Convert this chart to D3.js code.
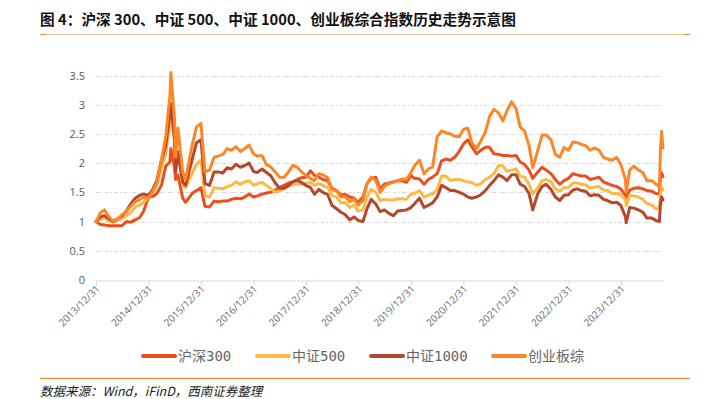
<!DOCTYPE html>
<html><head><meta charset="utf-8">
<script src="https://cdn.jsdelivr.net/npm/d3@7"></script>
<style>body{margin:0;background:#fff}svg{display:block}</style>
</head><body>
<svg id="c" width="704" height="399"></svg>
<script>
const dates=["2013-12-31",
"2014-01-30","2014-02-28","2014-03-31","2014-04-30","2014-05-30","2014-06-30","2014-07-31","2014-08-29","2014-09-30","2014-10-31","2014-11-28","2014-12-31",
"2015-01-30","2015-02-27","2015-03-31","2015-04-30","2015-05-29","2015-06-05","2015-06-30","2015-07-08","2015-07-24","2015-08-26","2015-09-15","2015-10-30","2015-11-30","2015-12-31",
"2016-01-28","2016-02-29","2016-03-31","2016-04-29","2016-05-31","2016-06-30","2016-07-29","2016-08-31","2016-09-30","2016-10-31","2016-11-30","2016-12-30",
"2017-01-26","2017-02-28","2017-03-31","2017-04-28","2017-05-31","2017-06-30","2017-07-31","2017-08-31","2017-09-29","2017-10-31","2017-11-30","2017-12-29",
"2018-01-31","2018-02-28","2018-03-30","2018-04-27","2018-05-31","2018-06-29","2018-07-31","2018-08-31","2018-09-28","2018-10-31","2018-11-30","2018-12-28",
"2019-01-31","2019-02-28","2019-03-29","2019-04-30","2019-05-31","2019-06-28","2019-07-31","2019-08-30","2019-09-30","2019-10-31","2019-11-29","2019-12-31",
"2020-01-23","2020-02-28","2020-03-31","2020-04-30","2020-05-29","2020-06-30","2020-07-31","2020-08-31","2020-09-30","2020-10-30","2020-11-30","2020-12-31",
"2021-01-29","2021-02-26","2021-03-31","2021-04-30","2021-05-31","2021-06-30","2021-07-30","2021-08-31","2021-09-30","2021-10-29","2021-11-30","2021-12-31",
"2022-01-28","2022-02-28","2022-03-31","2022-04-26","2022-05-31","2022-06-30","2022-07-29","2022-08-31","2022-09-30","2022-10-31","2022-11-30","2022-12-30",
"2023-01-31","2023-02-28","2023-03-31","2023-04-28","2023-05-31","2023-06-30","2023-07-31","2023-08-31","2023-09-28","2023-10-31","2023-11-30","2023-12-29",
"2024-01-31","2024-02-05","2024-02-29","2024-03-29","2024-04-30","2024-05-31","2024-06-28","2024-07-31","2024-08-30","2024-09-23","2024-09-30","2024-10-08","2024-10-18"];

const hs300=[1.00,
0.95,0.94,0.93,0.93,0.93,0.93,1.00,0.99,1.03,1.07,1.18,1.42,
1.43,1.48,1.62,1.95,2.02,2.25,1.92,1.72,1.80,1.40,1.33,1.48,1.53,1.58,
1.26,1.25,1.35,1.34,1.35,1.35,1.38,1.40,1.39,1.42,1.47,1.42,
1.44,1.47,1.49,1.50,1.54,1.58,1.62,1.66,1.68,1.72,1.75,1.76,
1.87,1.79,1.76,1.72,1.70,1.57,1.53,1.45,1.47,1.42,1.40,1.33,
1.42,1.65,1.74,1.76,1.55,1.64,1.66,1.68,1.70,1.70,1.67,1.79,
1.74,1.73,1.64,1.72,1.76,1.82,2.04,2.07,2.05,2.10,2.20,2.33,
2.40,2.28,2.16,2.22,2.27,2.27,2.16,2.15,2.13,2.13,2.12,2.13,
2.02,1.98,1.88,1.74,1.85,1.93,1.88,1.82,1.72,1.64,1.70,1.74,
1.82,1.80,1.78,1.78,1.72,1.74,1.76,1.68,1.65,1.62,1.60,1.56,
1.45,1.40,1.54,1.57,1.58,1.56,1.53,1.52,1.48,1.47,1.75,1.83,1.77];

const zz500=[1.00,
1.04,1.06,1.01,0.99,1.02,1.05,1.10,1.15,1.25,1.28,1.33,1.42,
1.50,1.62,1.92,2.15,2.65,2.92,2.35,1.90,2.15,1.62,1.58,1.82,1.98,2.05,
1.45,1.42,1.58,1.57,1.56,1.60,1.62,1.68,1.64,1.68,1.70,1.62,
1.65,1.67,1.62,1.57,1.50,1.53,1.56,1.60,1.63,1.64,1.64,1.66,
1.67,1.62,1.65,1.62,1.58,1.45,1.42,1.32,1.33,1.24,1.28,1.18,
1.20,1.42,1.55,1.50,1.36,1.38,1.37,1.37,1.39,1.39,1.38,1.47,
1.48,1.53,1.42,1.45,1.47,1.55,1.78,1.78,1.70,1.72,1.72,1.70,
1.68,1.67,1.62,1.65,1.72,1.76,1.82,1.96,1.95,1.86,1.88,1.90,
1.78,1.76,1.64,1.47,1.58,1.70,1.72,1.68,1.56,1.52,1.58,1.58,
1.66,1.66,1.64,1.63,1.57,1.59,1.60,1.54,1.53,1.48,1.48,1.46,
1.38,1.28,1.45,1.44,1.42,1.38,1.31,1.28,1.22,1.22,1.48,1.60,1.54];

const zz1000=[1.00,
1.08,1.10,1.05,1.00,1.05,1.10,1.18,1.30,1.40,1.45,1.47,1.45,
1.55,1.70,2.05,2.30,2.85,3.02,2.42,1.85,2.20,1.68,1.62,2.05,2.35,2.40,
1.65,1.62,1.85,1.85,1.83,1.92,1.90,1.98,1.93,1.96,2.00,1.86,
1.84,1.90,1.84,1.79,1.66,1.57,1.57,1.62,1.68,1.70,1.67,1.62,
1.58,1.47,1.55,1.50,1.46,1.28,1.22,1.16,1.12,1.03,1.08,1.02,
1.00,1.22,1.38,1.30,1.17,1.20,1.14,1.10,1.18,1.19,1.20,1.24,
1.30,1.40,1.24,1.28,1.32,1.42,1.62,1.58,1.53,1.53,1.50,1.47,
1.42,1.40,1.42,1.46,1.53,1.62,1.70,1.80,1.76,1.70,1.80,1.80,
1.64,1.60,1.48,1.20,1.48,1.60,1.64,1.55,1.42,1.36,1.45,1.46,
1.54,1.56,1.53,1.52,1.44,1.46,1.45,1.38,1.36,1.32,1.33,1.28,
1.08,0.98,1.24,1.23,1.20,1.16,1.06,1.06,1.02,1.00,1.28,1.42,1.37];

const cybz=[1.00,
1.15,1.20,1.08,1.01,1.04,1.12,1.17,1.26,1.34,1.38,1.42,1.40,
1.52,1.66,2.05,2.45,3.15,3.55,2.75,2.10,2.60,1.85,1.72,2.30,2.62,2.68,
1.85,1.88,2.10,2.12,2.15,2.25,2.22,2.28,2.20,2.25,2.31,2.16,
2.12,2.13,1.97,1.94,1.85,1.76,1.76,1.85,1.96,1.93,1.85,1.79,
1.74,1.70,1.82,1.80,1.75,1.55,1.52,1.42,1.43,1.34,1.38,1.28,
1.36,1.65,1.76,1.70,1.50,1.60,1.65,1.67,1.70,1.73,1.72,1.84,
1.95,2.05,1.82,1.90,1.93,2.45,2.55,2.52,2.50,2.46,2.45,2.58,
2.60,2.35,2.25,2.38,2.53,2.80,2.92,2.86,2.72,2.90,3.05,2.93,
2.62,2.55,2.30,1.92,2.22,2.48,2.48,2.40,2.15,2.10,2.27,2.22,
2.36,2.35,2.32,2.30,2.22,2.26,2.22,2.10,2.07,2.05,2.10,1.98,
1.72,1.50,1.88,1.95,1.88,1.84,1.70,1.70,1.64,1.60,2.20,2.54,2.26];

const seriesNames=["沪深300","中证500","中证1000","创业板综"];
const seriesColors=["#EA4F1E","#FDB848","#B5472A","#FD8628"];
const yTicks=[0,0.5,1,1.5,2,2.5,3,3.5];
const xTicks=["2013-12-31","2014-12-31","2015-12-31","2016-12-31","2017-12-31","2018-12-31","2019-12-31","2020-12-31","2021-12-31","2022-12-31","2023-12-31"];
const titleText="图 4：沪深 300、中证 500、中证 1000、创业板综合指数历史走势示意图";
const sourceText="数据来源：Wind，iFinD，西南证券整理";

const parse=d3.timeParse("%Y-%m-%d");
const svg=d3.select("#c");
const cjk="'Noto Sans CJK SC','Noto Sans',sans-serif";

const x=d3.scaleTime().domain([parse("2013-12-31"),parse("2024-10-18")]).range([96,663]);
const y=d3.scaleLinear().domain([0,3.5]).range([280,75.5]);

// title
svg.append("text").attr("x",40).attr("y",25).text(titleText)
  .attr("textLength",476).attr("lengthAdjust","spacingAndGlyphs")
  .style("font-family",cjk).style("font-weight","700").style("font-size","14.5px").attr("fill","#111");
svg.append("line").attr("x1",40).attr("x2",690).attr("y1",34.5).attr("y2",34.5).attr("stroke","#EBCB9E").attr("stroke-width",1);
svg.append("line").attr("x1",40).attr("x2",46).attr("y1",34.5).attr("y2",34.5).attr("stroke","#E0953F").attr("stroke-width",1.2);
svg.append("line").attr("x1",684).attr("x2",690).attr("y1",34.5).attr("y2",34.5).attr("stroke","#E0953F").attr("stroke-width",1.2);

// grid
svg.append("g").selectAll("line").data(yTicks.filter(d=>d>0)).join("line")
  .attr("x1",96).attr("x2",661).attr("y1",d=>Math.round(y(d))+0.5).attr("y2",d=>Math.round(y(d))+0.5)
  .attr("stroke","#D9D9D9").attr("stroke-width",1).attr("stroke-dasharray","4,2,1,2");

// y axis labels
const ya=svg.append("g").attr("transform","translate(96,0)")
  .call(d3.axisLeft(y).tickValues(yTicks).tickSize(0).tickPadding(11).tickFormat(d=>String(d)));
ya.select(".domain").remove();
ya.selectAll("text").style("font-family","'Open Sans','Noto Sans',sans-serif").style("font-size","11px").attr("fill","#595959");

// x axis
const xa=svg.append("g").attr("transform","translate(0,280.5)")
  .call(d3.axisBottom(x).tickValues(xTicks.map(parse)).tickSize(5).tickSizeOuter(0).tickFormat(d3.timeFormat("%Y/%m/%d")));
xa.select(".domain").attr("stroke","#D9D9D9");
xa.selectAll(".tick line").attr("stroke","#D9D9D9");
xa.selectAll("text").style("font-family","'Open Sans','Noto Sans',sans-serif").style("font-size","10px").attr("fill","#6b6b6b")
  .attr("text-anchor","end").attr("y",0).attr("dy","0").attr("transform","translate(4,9) rotate(-45)");

// lines
const allSeries=[hs300,zz500,zz1000,cybz];
const line=d3.line().x((d,i)=>x(parse(dates[i]))).y(d=>y(d)).curve(d3.curveLinear);
svg.append("g").selectAll("path").data(allSeries).join("path")
  .attr("d",d=>line(d)).attr("fill","none").attr("stroke",(d,i)=>seriesColors[i])
  .attr("stroke-width",3).attr("stroke-linejoin","round").attr("stroke-linecap","round");

// legend
const legX=[143,257,371,493];
const lg=svg.append("g").selectAll("g").data(seriesNames).join("g").attr("transform",(d,i)=>`translate(${legX[i]},356)`);
lg.append("line").attr("x1",0).attr("x2",32).attr("y1",0).attr("y2",0).attr("stroke",(d,i)=>seriesColors[i]).attr("stroke-width",4).attr("stroke-linecap","round");
lg.append("text").attr("x",35).attr("y",5).text(d=>d)
  .style("font-family","'DejaVu Sans Mono','Noto Sans CJK SC',monospace").style("font-size","14px").attr("fill","#666");

// footer
svg.append("line").attr("x1",40).attr("x2",690).attr("y1",378.5).attr("y2",378.5).attr("stroke","#D99A48").attr("stroke-width",1.3);
svg.append("text").attr("x",40).attr("y",396).text(sourceText)
  .style("font-family",cjk).style("font-style","italic").style("font-size","12.5px").attr("fill","#222");
</script>
</body></html>
